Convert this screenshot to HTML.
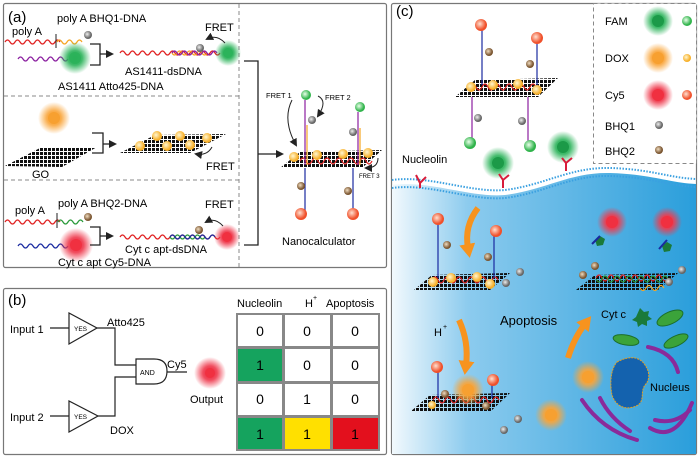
<!DOCTYPE html>
<html><head><meta charset="utf-8"><style>
html,body{margin:0;padding:0;background:#fff}
svg{display:block;font-family:"Liberation Sans",Arial,sans-serif}
</style></head><body>
<svg width="700" height="458" viewBox="0 0 700 458" xmlns="http://www.w3.org/2000/svg">
<defs>
<radialGradient id="gG"><stop offset="0" stop-color="#1a9e4a"/><stop offset=".45" stop-color="#2bb35a" stop-opacity=".9"/><stop offset="1" stop-color="#2bb35a" stop-opacity="0"/></radialGradient>
<radialGradient id="gO"><stop offset="0" stop-color="#f7931e"/><stop offset=".45" stop-color="#f9a53a" stop-opacity=".9"/><stop offset="1" stop-color="#f9a53a" stop-opacity="0"/></radialGradient>
<radialGradient id="gR"><stop offset="0" stop-color="#e8102a"/><stop offset=".45" stop-color="#ef3b4e" stop-opacity=".9"/><stop offset="1" stop-color="#ef3b4e" stop-opacity="0"/></radialGradient>
<radialGradient id="bG" cx=".4" cy=".4"><stop offset="0" stop-color="#e9ffe9"/><stop offset="1" stop-color="#2fb34a"/></radialGradient>
<radialGradient id="bY" cx=".4" cy=".4"><stop offset="0" stop-color="#fff6d0"/><stop offset="1" stop-color="#f7b02a"/></radialGradient>
<radialGradient id="bR" cx=".4" cy=".4"><stop offset="0" stop-color="#ffe0d0"/><stop offset="1" stop-color="#f0502a"/></radialGradient>
<radialGradient id="bK" cx=".4" cy=".4"><stop offset="0" stop-color="#eee"/><stop offset="1" stop-color="#666"/></radialGradient>
<radialGradient id="bB" cx=".4" cy=".4"><stop offset="0" stop-color="#f0dcc0"/><stop offset="1" stop-color="#7a5530"/></radialGradient>
<linearGradient id="cell" x1="0" x2="1"><stop offset="0" stop-color="#f2f9fd"/><stop offset=".25" stop-color="#8ccbee"/><stop offset="1" stop-color="#2a9edb"/></linearGradient>
<pattern id="gr" width="4" height="4" patternUnits="userSpaceOnUse"><rect x="0" y="0" width="3" height="3" fill="#111"/></pattern>
<marker id="ar" markerWidth="8" markerHeight="8" refX="6" refY="4" orient="auto" markerUnits="userSpaceOnUse"><path d="M0,0 L8,4 L0,8z" fill="#222"/></marker>
<marker id="ao" markerWidth="16" markerHeight="16" refX="4" refY="8" orient="auto" markerUnits="userSpaceOnUse"><path d="M0,0 L14,8 L0,16z" fill="#f7931e"/></marker>
</defs>

<!-- panel a -->
<rect x="3.5" y="3.5" width="383" height="264" fill="#fff" stroke="#777" stroke-width="1.2" rx="2"/>
<g stroke="#888" stroke-dasharray="4,3" stroke-width="1"><line x1="239" y1="4" x2="239" y2="267"/><line x1="4" y1="96" x2="239" y2="96"/><line x1="4" y1="180" x2="239" y2="180"/></g>
<text x="8" y="22" font-size="15">(a)</text>
<text x="57" y="22" font-size="11">poly A BHQ1-DNA</text>
<text x="12" y="35" font-size="11">poly A</text>
<path d="M5,42 q2.5,-4 5,0 t5,0 t5,0 t5,0 t5,0 t5,0 t5,0 t5,0 t5,0 t5,0 t5,0" fill="none" stroke="#e02020" stroke-width="1.2"/>
<line x1="56" y1="34" x2="56" y2="48" stroke="#222"/>
<path d="M57,42 q2.5,-4 5,0 t5,0 t5,0 t5,0 t5,0" fill="none" stroke="#f5a623" stroke-width="1.2"/>
<circle cx="88" cy="35" r="4" fill="url(#bK)"/>
<path d="M18,59 q2.5,-4 5,0 t5,0 t5,0 t5,0 t5,0 t5,0 t5,0 t5,0 t5,0 t5,0" fill="none" stroke="#8b1fa0" stroke-width="1.2"/>
<circle cx="75" cy="58" r="16" fill="url(#gG)"/><circle cx="75" cy="58" r="6" fill="#2bb35a" opacity=".9"/>
<path d="M90,44 H100 V65 H90 M100,54 H112" fill="none" stroke="#222" stroke-width="1.3" marker-end="url(#ar)"/>
<text x="58" y="90" font-size="11">AS1411 Atto425-DNA</text>
<path d="M120,53 q2.5,-4 5,0 t5,0 t5,0 t5,0 t5,0 t5,0 t5,0 t5,0 t5,0 t5,0 t5,0 t5,0 t5,0 t5,0 t5,0 t5,0 t5,0 t5,0 t5,0 t5,0" fill="none" stroke="#e02020" stroke-width="1.2"/>
<path d="M172,53 q2.5,4 5,0 t5,0 t5,0 t5,0 t5,0 t5,0 t5,0" fill="none" stroke="#f5a623" stroke-width="1.2"/>
<path d="M172,53 q2.5,-4 5,0 t5,0 t5,0 t5,0 t5,0 t5,0 t5,0 t5,0 t5,0" fill="none" stroke="#8b1fa0" stroke-width="1.2"/>
<circle cx="200" cy="48" r="4" fill="url(#bK)"/>
<circle cx="228" cy="53" r="13" fill="url(#gG)"/><circle cx="228" cy="53" r="5" fill="#2bb35a"/>
<path d="M225,43 q-8,-9 -18,-4" fill="none" stroke="#222" marker-end="url(#ar)"/>
<text x="205" y="31" font-size="11">FRET</text>
<text x="125" y="75" font-size="11">AS1411-dsDNA</text>
<circle cx="54" cy="118" r="16" fill="url(#gO)"/><circle cx="54" cy="118" r="6" fill="#f7a030"/>
<polygon points="5,166 40,148 97,147 62,167" fill="url(#gr)"/>
<text x="32" y="178" font-size="11">GO</text>
<path d="M92,133 H103 V153 H92 M103,144 H115" fill="none" stroke="#222" stroke-width="1.3" marker-end="url(#ar)"/>
<polygon points="120,153 155,135 226,134 190,153" fill="url(#gr)"/>
<g fill="url(#bY)"><circle cx="140" cy="146" r="5"/><circle cx="157" cy="136" r="5"/><circle cx="167" cy="146" r="5"/><circle cx="180" cy="136" r="5"/><circle cx="190" cy="145" r="5"/><circle cx="207" cy="138" r="5"/></g>
<path d="M212,147 q-5,9 -16,7" fill="none" stroke="#222" marker-end="url(#ar)"/>
<text x="206" y="170" font-size="11">FRET</text>
<text x="15" y="214" font-size="11">poly A</text>
<text x="58" y="207" font-size="11">poly A BHQ2-DNA</text>
<path d="M5,222 q2.5,-4 5,0 t5,0 t5,0 t5,0 t5,0 t5,0 t5,0 t5,0 t5,0 t5,0 t5,0" fill="none" stroke="#e02020" stroke-width="1.2"/>
<line x1="57" y1="213" x2="57" y2="228" stroke="#222"/>
<path d="M58,222 q2.5,-4 5,0 t5,0 t5,0 t5,0 t5,0" fill="none" stroke="#2a9a3a" stroke-width="1.2"/>
<circle cx="88" cy="217" r="4" fill="url(#bB)"/>
<path d="M18,246 q2.5,-4 5,0 t5,0 t5,0 t5,0 t5,0 t5,0 t5,0 t5,0 t5,0 t5,0" fill="none" stroke="#1a2aa0" stroke-width="1.2"/>
<circle cx="76" cy="245" r="17" fill="url(#gR)"/><circle cx="76" cy="245" r="6" fill="#f03040"/>
<path d="M90,227 H100 V245 H90 M100,236 H112" fill="none" stroke="#222" stroke-width="1.3" marker-end="url(#ar)"/>
<path d="M120,237 q2.5,-4 5,0 t5,0 t5,0 t5,0 t5,0 t5,0 t5,0 t5,0 t5,0 t5,0 t5,0 t5,0 t5,0 t5,0 t5,0 t5,0 t5,0 t5,0 t5,0 t5,0" fill="none" stroke="#e02020" stroke-width="1.2"/>
<path d="M170,237 q2.5,4 5,0 t5,0 t5,0 t5,0 t5,0 t5,0 t5,0" fill="none" stroke="#2a9a3a" stroke-width="1.2"/>
<path d="M170,237 q2.5,-4 5,0 t5,0 t5,0 t5,0 t5,0 t5,0 t5,0 t5,0 t5,0" fill="none" stroke="#1a2aa0" stroke-width="1.2"/>
<circle cx="199" cy="230" r="4" fill="url(#bB)"/>
<circle cx="227" cy="237" r="13" fill="url(#gR)"/><circle cx="227" cy="237" r="5" fill="#f03040"/>
<path d="M223,226 q-8,-9 -17,-4" fill="none" stroke="#222" marker-end="url(#ar)"/>
<text x="205" y="208" font-size="11">FRET</text>
<text x="125" y="253" font-size="11">Cyt c apt-dsDNA</text>
<text x="58" y="266" font-size="11">Cyt c apt Cy5-DNA</text>
<path d="M244,61 H258 V245 H244 M258,154 H282" fill="none" stroke="#222" stroke-width="1.3" marker-end="url(#ar)"/>
<text x="266" y="98" font-size="7.5">FRET 1</text>
<text x="325" y="100" font-size="7.5">FRET 2</text>
<text x="359" y="178" font-size="6">FRET 3</text>
<polygon points="280,168 300,152 382,150 362,168" fill="url(#gr)"/>
<path d="M300,161 q3,-6 6,0 t6,0 t6,0 t6,0 t6,0 t6,0 t6,0 t6,0 t6,0 t6,0 t6,0 t6,0" fill="none" stroke="#e02020" stroke-width="1.2"/>
<line x1="305" y1="100" x2="305" y2="165" stroke="#8b1fa0" stroke-width="1.2"/><line x1="307" y1="125" x2="307" y2="165" stroke="#f5a623" stroke-width="1.2"/>
<line x1="358" y1="112" x2="358" y2="165" stroke="#8b1fa0" stroke-width="1.2"/><line x1="360" y1="128" x2="360" y2="165" stroke="#f5a623" stroke-width="1.2"/>
<circle cx="306" cy="95" r="5" fill="url(#bG)"/><circle cx="360" cy="107" r="5" fill="url(#bG)"/>
<circle cx="312" cy="120" r="4" fill="url(#bK)"/><circle cx="353" cy="132" r="4" fill="url(#bK)"/>
<g fill="url(#bY)"><circle cx="294" cy="157" r="5"/><circle cx="317" cy="155" r="5"/><circle cx="343" cy="154" r="5"/><circle cx="368" cy="153" r="5"/></g>
<line x1="305" y1="168" x2="305" y2="212" stroke="#1a2aa0" stroke-width="1.2"/><line x1="353" y1="168" x2="353" y2="212" stroke="#1a2aa0" stroke-width="1.2"/>
<circle cx="301" cy="186" r="4" fill="url(#bB)"/><circle cx="348" cy="191" r="4" fill="url(#bB)"/>
<circle cx="301" cy="214" r="6" fill="url(#bR)"/><circle cx="353" cy="214" r="6" fill="url(#bR)"/>
<path d="M292,100 q-10,20 4,45" fill="none" stroke="#222" marker-end="url(#ar)"/>
<path d="M318,96 q10,5 0,20" fill="none" stroke="#222" marker-end="url(#ar)"/>
<path d="M378,158 q0,10 -12,10" fill="none" stroke="#222" marker-end="url(#ar)"/>
<text x="282" y="245" font-size="11">Nanocalculator</text>

<!-- panel b -->
<rect x="3.5" y="288.5" width="383" height="166" fill="#fff" stroke="#777" stroke-width="1.2" rx="2"/>
<text x="8" y="305" font-size="15">(b)</text>
<text x="10" y="333" font-size="11">Input 1</text>
<text x="10" y="421" font-size="11">Input 2</text>
<g fill="none" stroke="#222" stroke-width="1.2">
<line x1="50" y1="328" x2="69" y2="328"/><polygon points="69,313 69,344 97,328" fill="#fff"/>
<line x1="50" y1="416" x2="69" y2="416"/><polygon points="69,401 69,432 98,416" fill="#fff"/>
<path d="M97,328 H115 V365 H136 M98,416 H115 V377 H136"/>
<path d="M136,359 H154 Q167,359 167,371 Q167,384 154,384 H136 Z" fill="#fff"/>
<line x1="167" y1="372" x2="187" y2="372"/>
</g>
<text x="74" y="331" font-size="6.5">YES</text><text x="74" y="419" font-size="6.5">YES</text>
<text x="140" y="375" font-size="7">AND</text>
<text x="107" y="326" font-size="11">Atto425</text><text x="110" y="434" font-size="11">DOX</text>
<text x="167" y="368" font-size="11">Cy5</text>
<circle cx="210" cy="373" r="16" fill="url(#gR)"/><circle cx="210" cy="373" r="5" fill="#f03040"/>
<text x="190" y="403" font-size="11">Output</text>
<text x="237" y="307" font-size="11">Nucleolin</text>
<text x="305" y="307" font-size="11">H</text><text x="313" y="300" font-size="7">+</text>
<text x="326" y="307" font-size="11">Apoptosis</text>
<rect x="236" y="313" width="144" height="138" fill="#888"/>
<g fill="#fff">
<rect x="238" y="315" width="44" height="31"/><rect x="285" y="315" width="45" height="31"/><rect x="333" y="315" width="45" height="31"/>
<rect x="238" y="349" width="44" height="32" fill="#15a35e"/><rect x="285" y="349" width="45" height="32"/><rect x="333" y="349" width="45" height="32"/>
<rect x="238" y="384" width="44" height="31"/><rect x="285" y="384" width="45" height="31"/><rect x="333" y="384" width="45" height="31"/>
<rect x="238" y="418" width="44" height="31" fill="#15a35e"/><rect x="285" y="418" width="45" height="31" fill="#ffe000"/><rect x="333" y="418" width="45" height="31" fill="#e3101d"/>
</g>
<g font-size="14" text-anchor="middle">
<text x="260" y="336">0</text><text x="307" y="336">0</text><text x="355" y="336">0</text>
<text x="260" y="370">1</text><text x="307" y="370">0</text><text x="355" y="370">0</text>
<text x="260" y="404">0</text><text x="307" y="404">1</text><text x="355" y="404">0</text>
<text x="260" y="439">1</text><text x="307" y="439">1</text><text x="355" y="439">1</text>
</g>

<!-- panel c -->
<rect x="391.5" y="3.5" width="305" height="451" fill="#fff" stroke="#777" stroke-width="1.2" rx="2"/>
<path d="M392,185 C430,180 470,198 505,195 C545,190 570,172 610,173 C650,174 670,183 696,184 V454 H392 Z" fill="url(#cell)"/>
<path d="M392,180 C430,175 470,193 505,190 C545,185 570,167 610,168 C650,169 670,178 696,179" fill="none" stroke="#3aa0e0" stroke-width="2" stroke-dasharray="1.5,1.5"/>
<path d="M392,188 C430,183 470,201 505,198 C545,193 570,175 610,176 C650,177 670,186 696,187" fill="none" stroke="#3aa0e0" stroke-width="2" stroke-dasharray="1.5,1.5"/>
<text x="396" y="16" font-size="15">(c)</text>
<rect x="593.5" y="3.5" width="103" height="160" fill="#fff" stroke="#888" stroke-dasharray="4,3"/>
<g font-size="11"><text x="605" y="25">FAM</text><text x="605" y="62">DOX</text><text x="605" y="99">Cy5</text><text x="605" y="130">BHQ1</text><text x="605" y="155">BHQ2</text></g>
<circle cx="658" cy="21" r="15" fill="url(#gG)"/><circle cx="658" cy="21" r="6" fill="#1c9a48"/><circle cx="687" cy="21" r="5" fill="url(#bG)"/>
<circle cx="658" cy="58" r="15" fill="url(#gO)"/><circle cx="658" cy="58" r="6" fill="#f7a030"/><circle cx="687" cy="58" r="4" fill="url(#bY)"/>
<circle cx="658" cy="95" r="15" fill="url(#gR)"/><circle cx="658" cy="95" r="6" fill="#f03040"/><circle cx="687" cy="95" r="5" fill="url(#bR)"/>
<circle cx="659" cy="125" r="4" fill="url(#bK)"/><circle cx="659" cy="150" r="4" fill="url(#bB)"/>
<polygon points="455,97 475,80 558,78 538,97" fill="url(#gr)"/>
<path d="M470,87 q3,-6 6,0 t6,0 t6,0 t6,0 t6,0 t6,0 t6,0 t6,0 t6,0 t6,0 t6,0" fill="none" stroke="#e02020" stroke-width="1.2"/>
<line x1="482" y1="28" x2="482" y2="85" stroke="#1a2aa0" stroke-width="1.2"/><line x1="537" y1="40" x2="537" y2="85" stroke="#1a2aa0" stroke-width="1.2"/>
<circle cx="481" cy="25" r="6" fill="url(#bR)"/><circle cx="537" cy="38" r="6" fill="url(#bR)"/>
<circle cx="489" cy="52" r="4" fill="url(#bB)"/><circle cx="530" cy="64" r="4" fill="url(#bB)"/>
<g fill="url(#bY)"><circle cx="471" cy="87" r="5"/><circle cx="493" cy="85" r="5"/><circle cx="518" cy="84" r="5"/><circle cx="537" cy="90" r="5"/></g>
<line x1="472" y1="97" x2="472" y2="140" stroke="#8b1fa0" stroke-width="1.2"/><line x1="528" y1="97" x2="528" y2="142" stroke="#8b1fa0" stroke-width="1.2"/>
<circle cx="478" cy="118" r="4" fill="url(#bK)"/><circle cx="522" cy="121" r="4" fill="url(#bK)"/>
<circle cx="470" cy="143" r="6" fill="url(#bG)"/><circle cx="530" cy="146" r="6" fill="url(#bG)"/>
<text x="402" y="163" font-size="11">Nucleolin</text>
<path d="M420,183 l-4,-8 M420,183 l6,-6 M420,183 v5" stroke="#d81d3a" stroke-width="2" fill="none"/>
<circle cx="498" cy="163" r="16" fill="url(#gG)"/><circle cx="498" cy="163" r="6" fill="#1c9a48"/>
<path d="M503,180 l-4,-6 M503,180 l6,-5 M503,180 v8" stroke="#d81d3a" stroke-width="2" fill="none"/>
<circle cx="563" cy="147" r="16" fill="url(#gG)"/><circle cx="563" cy="147" r="6" fill="#1c9a48"/>
<path d="M566,163 l-4,-5 M566,163 l6,-5 M566,163 v8" stroke="#d81d3a" stroke-width="2" fill="none"/>
<path d="M478,208 q-14,18 -10,40" fill="none" stroke="#f7931e" stroke-width="6" marker-end="url(#ao)"/>
<polygon points="414,290 432,275 510,273 490,290" fill="url(#gr)"/>
<path d="M432,280 q3,-6 6,0 t6,0 t6,0 t6,0 t6,0 t6,0 t6,0 t6,0 t6,0 t6,0 t6,0" fill="none" stroke="#e02020" stroke-width="1.2"/>
<line x1="438" y1="222" x2="438" y2="278" stroke="#1a2aa0" stroke-width="1.2"/><line x1="494" y1="234" x2="494" y2="278" stroke="#1a2aa0" stroke-width="1.2"/>
<circle cx="438" cy="219" r="6" fill="url(#bR)"/><circle cx="496" cy="231" r="6" fill="url(#bR)"/>
<circle cx="447" cy="245" r="4" fill="url(#bB)"/><circle cx="488" cy="257" r="4" fill="url(#bB)"/>
<g fill="url(#bY)"><circle cx="433" cy="282" r="5"/><circle cx="451" cy="278" r="5"/><circle cx="477" cy="277" r="5"/><circle cx="490" cy="284" r="5"/></g>
<circle cx="520" cy="272" r="4" fill="url(#bK)"/><circle cx="506" cy="283" r="4" fill="url(#bK)"/>
<text x="434" y="336" font-size="11">H</text><text x="443" y="329" font-size="7">+</text>
<path d="M459,320 q10,22 7,45" fill="none" stroke="#f7931e" stroke-width="6" marker-end="url(#ao)"/>
<text x="500" y="325" font-size="13">Apoptosis</text>
<polygon points="410,412 430,395 510,393 490,412" fill="url(#gr)"/>
<path d="M433,400 q3,-6 6,0 t6,0 t6,0 t6,0 t6,0 t6,0 t6,0 t6,0 t6,0 t6,0 t6,0" fill="none" stroke="#e02020" stroke-width="1.2"/>
<line x1="438" y1="370" x2="438" y2="398" stroke="#1a2aa0" stroke-width="1.2"/><line x1="492" y1="383" x2="492" y2="398" stroke="#1a2aa0" stroke-width="1.2"/>
<circle cx="437" cy="367" r="6" fill="url(#bR)"/><circle cx="493" cy="380" r="6" fill="url(#bR)"/>
<circle cx="445" cy="394" r="4" fill="url(#bB)"/><circle cx="486" cy="406" r="4" fill="url(#bB)"/>
<circle cx="432" cy="405" r="4" fill="url(#bY)"/>
<circle cx="518" cy="419" r="4" fill="url(#bK)"/><circle cx="504" cy="430" r="4" fill="url(#bK)"/>
<circle cx="468" cy="390" r="16" fill="url(#gO)"/><circle cx="468" cy="390" r="6" fill="#f7a030"/>
<circle cx="551" cy="415" r="16" fill="url(#gO)"/><circle cx="551" cy="415" r="6" fill="#f7a030"/>
<circle cx="588" cy="377" r="16" fill="url(#gO)"/><circle cx="588" cy="377" r="6" fill="#f7a030"/>
<path d="M568,358 q6,-20 17,-34" fill="none" stroke="#f7931e" stroke-width="6" marker-end="url(#ao)"/>
<circle cx="612" cy="222" r="15" fill="url(#gR)"/><circle cx="612" cy="222" r="6" fill="#f03040"/>
<circle cx="667" cy="222" r="15" fill="url(#gR)"/><circle cx="667" cy="222" r="6" fill="#f03040"/>
<path d="M595,240 l5,-4 5,3 -2,6 -6,1z" fill="#1a7a3a"/><line x1="592" y1="244" x2="600" y2="236" stroke="#1a2aa0" stroke-width="2"/>
<path d="M662,246 l5,-4 5,3 -2,6 -6,1z" fill="#1a7a3a"/><line x1="659" y1="249" x2="667" y2="240" stroke="#1a2aa0" stroke-width="2"/>
<polygon points="576,290 595,275 678,273 658,290" fill="url(#gr)"/>
<path d="M596,278 q3,-6 6,0 t6,0 t6,0 t6,0 t6,0 t6,0 t6,0 t6,0 t6,0 t6,0 t6,0 t6,0" fill="none" stroke="#e02020" stroke-width="1.2"/>
<path d="M596,279 q3,6 6,0 t6,0 t6,0 t6,0 t6,0 t6,0 t6,0 t6,0 t6,0 t6,0 t6,0 t6,0" fill="none" stroke="#2a9a3a" stroke-width="1.2"/>
<path d="M640,288 q3,5 6,0 t6,0 t6,0 t6,0" fill="none" stroke="#f5a623" stroke-width="1.2"/>
<circle cx="595" cy="266" r="4" fill="url(#bB)"/><circle cx="583" cy="275" r="4" fill="url(#bB)"/>
<circle cx="682" cy="270" r="4" fill="url(#bK)"/><circle cx="669" cy="282" r="4" fill="url(#bK)"/>
<text x="601" y="318" font-size="11">Cyt c</text>
<path d="M640,308 l4,4 5,-1 -1,5 4,3 -5,2 0,5 -5,-2 -4,3 -1,-5 -5,-2 4,-3z" fill="#1a7a3a"/>
<g fill="#3ba33a" stroke="#1c6e2a"><ellipse cx="670" cy="318" rx="14" ry="6" transform="rotate(-25 670 318)"/><ellipse cx="626" cy="340" rx="13" ry="5" transform="rotate(10 626 340)"/><ellipse cx="676" cy="341" rx="13" ry="5" transform="rotate(-25 676 341)"/></g>
<path d="M617,362 C630,355 640,357 645,365 C650,372 650,380 645,385 C640,392 645,400 638,405 C625,412 615,405 612,395 C610,385 610,370 617,362 Z" fill="#1462ae" stroke="#e6a020" stroke-dasharray="2,1"/>
<text x="650" y="391" font-size="11">Nucleus</text>
<g fill="none" stroke="#8a2a9a" stroke-width="4" stroke-linecap="round"><path d="M648,347 q25,5 30,25"/><path d="M582,400 q20,30 55,40"/><path d="M600,398 q10,20 30,33"/><path d="M650,428 q25,15 42,-25"/><path d="M655,420 q20,5 35,-10"/></g>
</svg>
</body></html>
